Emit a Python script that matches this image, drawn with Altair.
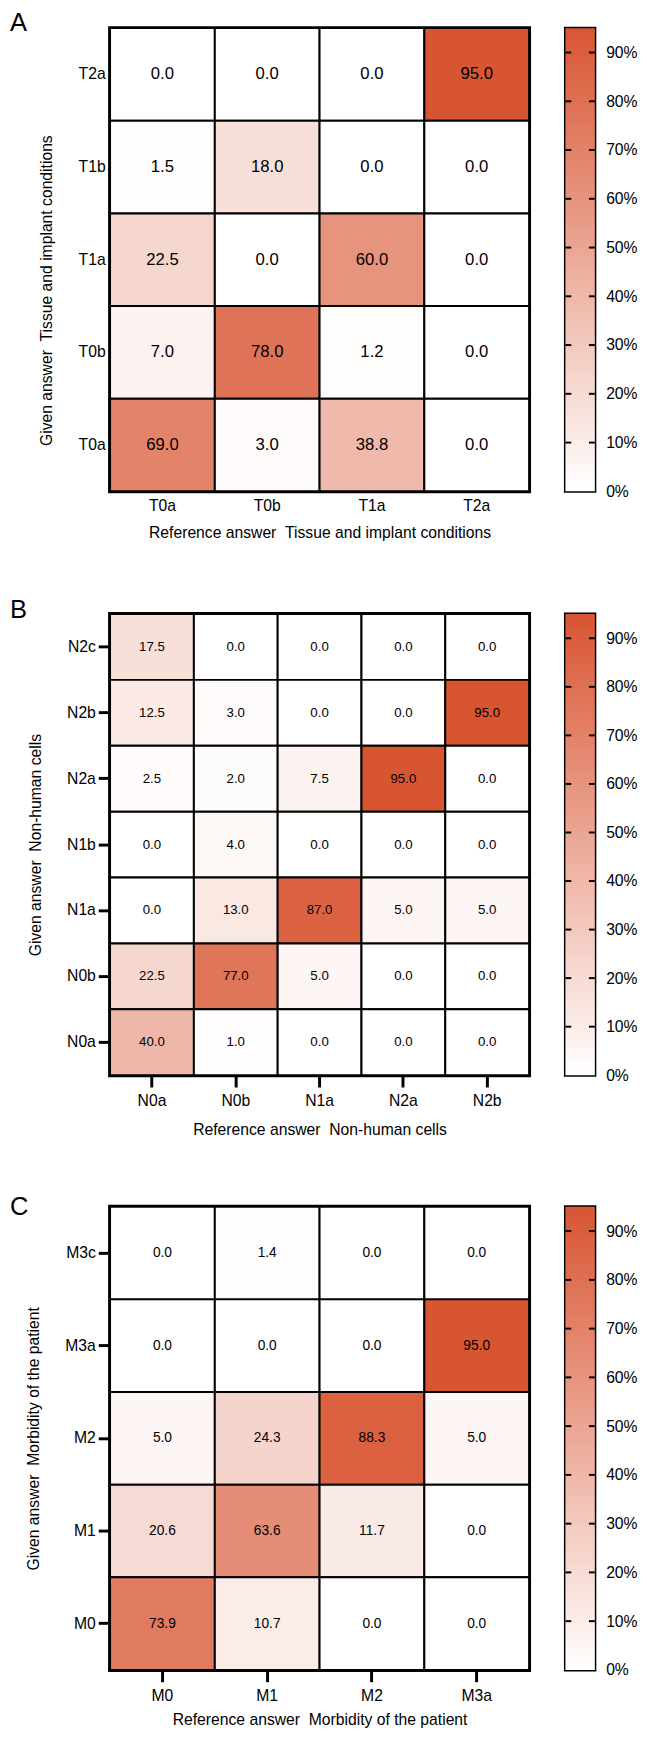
import altair as alt
import pandas as pd

FONT = "Liberation Sans"
LOW_COLOR = "#ffffff"
HIGH_COLOR = "#d85532"
VMAX = 95
BAR_LABEL_VALUES = [0, 10, 20, 30, 40, 50, 60, 70, 80, 90]
BAR_INNER_TICKS = [10, 20, 30, 40, 50, 60, 70, 80, 90]

# ---- Panel A: Tissue and implant conditions
A_X = ["T0a", "T0b", "T1a", "T2a"]
A_Y = ["T2a", "T1b", "T1a", "T0b", "T0a"]  # top -> bottom
A_T2a = [0.0, 0.0, 0.0, 95.0]
A_T1b = [1.5, 18.0, 0.0, 0.0]
A_T1a = [22.5, 0.0, 60.0, 0.0]
A_T0b = [7.0, 78.0, 1.2, 0.0]
A_T0a = [69.0, 3.0, 38.8, 0.0]

# ---- Panel B: Non-human cells
B_X = ["N0a", "N0b", "N1a", "N2a", "N2b"]
B_Y = ["N2c", "N2b", "N2a", "N1b", "N1a", "N0b", "N0a"]  # top -> bottom
B_N2c = [17.5, 0.0, 0.0, 0.0, 0.0]
B_N2b = [12.5, 3.0, 0.0, 0.0, 95.0]
B_N2a = [2.5, 2.0, 7.5, 95.0, 0.0]
B_N1b = [0.0, 4.0, 0.0, 0.0, 0.0]
B_N1a = [0.0, 13.0, 87.0, 5.0, 5.0]
B_N0b = [22.5, 77.0, 5.0, 0.0, 0.0]
B_N0a = [40.0, 1.0, 0.0, 0.0, 0.0]

# ---- Panel C: Morbidity of the patient
C_X = ["M0", "M1", "M2", "M3a"]
C_Y = ["M3c", "M3a", "M2", "M1", "M0"]  # top -> bottom
C_M3c = [0.0, 1.4, 0.0, 0.0]
C_M3a = [0.0, 0.0, 0.0, 95.0]
C_M2 = [5.0, 24.3, 88.3, 5.0]
C_M1 = [20.6, 63.6, 11.7, 0.0]
C_M0 = [73.9, 10.7, 0.0, 0.0]

SP = " \u00a0"


def heatmap(letter, xs, ys, rows, xtitle, ytitle, show_ticks, cell_font,
            width, height, letter_y, xtitle_pad, ytitle_pos=None):
    df = pd.DataFrame([
        {"ref": x, "given": y, "v": z}
        for y, row in zip(ys, rows) for x, z in zip(xs, row)
    ])
    tick_kw = dict(ticks=True, tickSize=12, tickWidth=3, tickColor="black") if show_ticks else dict(ticks=False, tickSize=0)
    xaxis = alt.Axis(title=xtitle, labelAngle=0, domain=False, grid=False,
                     labelPadding=6 if show_ticks else 7, titlePadding=xtitle_pad, **tick_kw)
    ykw = {}
    if ytitle_pos is not None:
        ykw = dict(titleX=ytitle_pos[0], titleY=ytitle_pos[1], titleAngle=270,
                   titleAlign="center", titleBaseline="middle")
    yaxis = alt.Axis(title=ytitle, domain=False, grid=False,
                     labelPadding=3 if show_ticks else 5, titlePadding=24, **tick_kw, **ykw)
    x = alt.X("ref:N", sort=xs, scale=alt.Scale(paddingInner=0, paddingOuter=0), axis=xaxis)
    y = alt.Y("given:N", sort=ys, scale=alt.Scale(paddingInner=0, paddingOuter=0), axis=yaxis)
    base = alt.Chart(df)
    rect = base.mark_rect(stroke="black", strokeWidth=2).encode(
        x=x, y=y,
        color=alt.Color("v:Q", scale=alt.Scale(domain=[0, VMAX], range=[LOW_COLOR, HIGH_COLOR],
                                               interpolate="rgb"),
                        legend=None),
    )
    txt = base.mark_text(fontSize=cell_font, font=FONT, color="black").encode(
        x=x, y=y, text=alt.Text("v:Q", format=".1f")
    )
    lab = alt.Chart(pd.DataFrame({"label": [letter]})).mark_text(
        align="left", baseline="alphabetic", fontSize=26, font=FONT, color="black"
    ).encode(x=alt.value(-102), y=alt.value(letter_y), text="label:N")
    return alt.layer(rect, txt, lab).properties(
        width=width, height=height,
        view=alt.ViewBackground(stroke="black", strokeWidth=4),
    )


def colorbar(height):
    cb_axis = alt.Axis(orient="right", values=BAR_LABEL_VALUES, labelExpr="datum.value + '%'",
                       ticks=False, tickSize=0, domain=False, grid=False, labelPadding=11, title=None)
    yscale = alt.Scale(domain=[0, VMAX], nice=False, zero=True)
    grad = alt.Chart(pd.DataFrame({"lo": [0], "hi": [VMAX]})).mark_rect(
        fill=alt.Gradient(
            gradient="linear",
            stops=[alt.GradientStop(color=LOW_COLOR, offset=0),
                   alt.GradientStop(color=HIGH_COLOR, offset=1)],
            x1=0, x2=0, y1=1, y2=0,
        )
    ).encode(
        y=alt.Y("lo:Q", scale=yscale, axis=cb_axis), y2="hi:Q",
        x=alt.value(0), x2=alt.value(30),
    )
    tdf = pd.DataFrame({"t": BAR_INNER_TICKS})
    lt = alt.Chart(tdf).mark_rule(color="black", strokeWidth=2).encode(
        y=alt.Y("t:Q", scale=yscale, axis=cb_axis), x=alt.value(0), x2=alt.value(6))
    rt = alt.Chart(tdf).mark_rule(color="black", strokeWidth=2).encode(
        y=alt.Y("t:Q", scale=yscale, axis=cb_axis), x=alt.value(24), x2=alt.value(30))
    return alt.layer(grad, lt, rt).properties(
        width=30, height=height,
        view=alt.ViewBackground(stroke="black", strokeWidth=3),
    )


pa = heatmap("A", A_X, A_Y, [A_T2a, A_T1b, A_T1a, A_T0b, A_T0a],
             "Reference answer" + SP + "Tissue and implant conditions",
             "Given answer" + SP + "Tissue and implant conditions",
             False, 17, 427, 472, 3, 11, ytitle_pos=(-65, 267))
pb = heatmap("B", B_X, B_Y, [B_N2c, B_N2b, B_N2a, B_N1b, B_N1a, B_N0b, B_N0a],
             "Reference answer" + SP + "Non-human cells",
             "Given answer" + SP + "Non-human cells",
             True, 13.5, 427, 470, 4, 13)
pc = heatmap("C", C_X, C_Y, [C_M3c, C_M3a, C_M2, C_M1, C_M0],
             "Reference answer" + SP + "Morbidity of the patient",
             "Given answer" + SP + "Morbidity of the patient",
             True, 14, 427, 472, 8, 9)

rowA = alt.hconcat(pa, colorbar(472), spacing=31)
rowB = alt.hconcat(pb, colorbar(470), spacing=31)
rowC = alt.hconcat(pc, colorbar(472), spacing=31)

chart = alt.vconcat(rowA, rowB, rowC, spacing=54).resolve_scale(color="independent").properties(
    padding={"left": 0, "top": -16, "right": 0, "bottom": 0}
).configure(font=FONT, background="white").configure_axis(
    labelFont=FONT, titleFont=FONT, labelFontSize=16, titleFontSize=16,
    labelColor="black", titleColor="black", titleFontWeight="normal",
).configure_concat(spacing=54)

chart.save("out.html", embed_options={"renderer": "svg", "actions": False})
